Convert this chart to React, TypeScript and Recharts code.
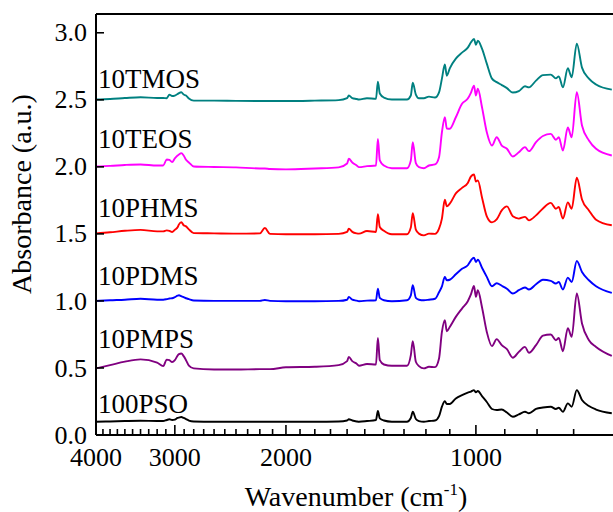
import React from 'react'
import { LineChart, Line, XAxis, YAxis, ReferenceLine, ReferenceDot } from 'recharts'

const FONT = "'Liberation Serif', 'Times New Roman', serif"

// wavenumber grid (cm-1), descending
const wavenumbers = [
  4000, 3800, 3600, 3400, 3200, 3130, 3090, 3060, 3030, 3000, 2970, 2955, 2930, 2905, 2880, 2850, 2800,
  2600, 2400, 2200, 2160, 2120, 2000, 1800, 1650, 1600, 1590, 1570, 1545, 1532,
  1488, 1440, 1430, 1420, 1399, 1359, 1286, 1268, 1259, 1245,
  1231, 1209, 1187, 1161, 1144, 1132, 1120, 1112, 1100, 1076,
  1052, 1030, 1018, 1007, 1000, 993, 978, 961, 943, 927,
  910, 893, 874, 855, 836, 824, 803, 783, 761, 747,
  739, 728, 715, 705, 692, 679, 662, 645, 609,
]

const tmos = [
  2.502, 2.506, 2.513, 2.519, 2.513, 2.513, 2.512, 2.539, 2.528, 2.532, 2.543, 2.55, 2.556, 2.539, 2.532, 2.51, 2.494,
  2.494, 2.492, 2.491, 2.491, 2.491, 2.491, 2.494, 2.498, 2.513, 2.532, 2.513, 2.506, 2.502,
  2.512, 2.507, 2.636, 2.547, 2.517, 2.502, 2.502, 2.532, 2.628, 2.539,
  2.512, 2.512, 2.524, 2.517, 2.556, 2.658, 2.763, 2.68, 2.735, 2.807,
  2.852, 2.889, 2.929, 2.954, 2.911, 2.941, 2.882, 2.77, 2.658, 2.632,
  2.61, 2.587, 2.554, 2.565, 2.601, 2.593, 2.643, 2.684, 2.688, 2.66,
  2.675, 2.593, 2.735, 2.668, 2.919, 2.74, 2.658, 2.614, 2.576,
]

const teos = [
  2.003, 2.007, 2.014, 2.018, 2.01, 2.01, 2.055, 2.052, 2.035, 2.063, 2.085, 2.092, 2.102, 2.085, 2.053, 2.033, 2.003,
  1.999, 1.996, 1.988, 1.988, 1.984, 1.981, 1.988, 1.996, 2.025, 2.06, 2.033, 2.01, 1.998,
  2.005, 2.01, 2.209, 2.048, 2.01, 1.99, 1.99, 2.048, 2.184, 2.028,
  1.998, 1.99, 2.01, 2.018, 2.072, 2.258, 2.37, 2.286, 2.284, 2.37,
  2.47, 2.509, 2.554, 2.606, 2.532, 2.582, 2.445, 2.258, 2.159, 2.221,
  2.159, 2.135, 2.077, 2.109, 2.147, 2.117, 2.184, 2.23, 2.246, 2.202,
  2.221, 2.122, 2.293, 2.221, 2.556, 2.308, 2.197, 2.135, 2.085,
]

const phms = [
  1.504, 1.512, 1.523, 1.53, 1.519, 1.519, 1.526, 1.523, 1.514, 1.53, 1.549, 1.571, 1.588, 1.564, 1.556, 1.534, 1.506,
  1.504, 1.502, 1.504, 1.544, 1.5, 1.497, 1.497, 1.5, 1.515, 1.538, 1.515, 1.504, 1.502,
  1.521, 1.514, 1.646, 1.551, 1.523, 1.497, 1.497, 1.547, 1.655, 1.532,
  1.502, 1.489, 1.502, 1.5, 1.539, 1.614, 1.755, 1.705, 1.725, 1.802,
  1.843, 1.88, 1.929, 1.943, 1.891, 1.899, 1.772, 1.631, 1.586, 1.608,
  1.675, 1.705, 1.631, 1.614, 1.627, 1.601, 1.638, 1.69, 1.731, 1.688,
  1.7, 1.614, 1.735, 1.688, 1.919, 1.757, 1.675, 1.606, 1.564,
]

const pdms = [
  1.0, 1.005, 1.009, 1.016, 1.009, 1.009, 1.013, 1.018, 1.02, 1.028, 1.039, 1.042, 1.035, 1.028, 1.02, 1.013, 1.003,
  1.0, 1.0, 1.0, 1.007, 1.0, 0.998, 0.998, 1.0, 1.009, 1.03, 1.009, 1.002, 0.998,
  1.002, 1.005, 1.092, 1.022, 1.005, 0.998, 1.005, 1.042, 1.117, 1.022,
  1.009, 1.005, 1.009, 1.016, 1.065, 1.109, 1.179, 1.154, 1.158, 1.199,
  1.24, 1.266, 1.303, 1.323, 1.29, 1.308, 1.247, 1.179, 1.109, 1.132,
  1.113, 1.091, 1.055, 1.08, 1.1, 1.085, 1.124, 1.158, 1.15, 1.13,
  1.141, 1.085, 1.174, 1.141, 1.298, 1.216, 1.154, 1.109, 1.06,
]

const pmps = [
  0.497, 0.521, 0.547, 0.564, 0.54, 0.514, 0.562, 0.558, 0.544, 0.558, 0.592, 0.603, 0.608, 0.588, 0.558, 0.517, 0.497,
  0.489, 0.488, 0.491, 0.491, 0.491, 0.505, 0.509, 0.521, 0.551, 0.583, 0.551, 0.532, 0.517,
  0.529, 0.526, 0.724, 0.558, 0.526, 0.516, 0.516, 0.596, 0.7, 0.546,
  0.514, 0.497, 0.509, 0.506, 0.571, 0.769, 0.856, 0.774, 0.806, 0.881,
  0.943, 0.998, 1.05, 1.112, 1.03, 1.08, 0.953, 0.769, 0.663, 0.715,
  0.67, 0.64, 0.576, 0.62, 0.657, 0.613, 0.67, 0.741, 0.75, 0.707,
  0.724, 0.625, 0.797, 0.732, 1.055, 0.832, 0.707, 0.657, 0.59,
]

const pso = [
  0.099, 0.101, 0.104, 0.106, 0.104, 0.104, 0.112, 0.117, 0.112, 0.115, 0.127, 0.13, 0.134, 0.127, 0.119, 0.108, 0.101,
  0.099, 0.099, 0.099, 0.099, 0.099, 0.099, 0.099, 0.101, 0.108, 0.117, 0.108, 0.101, 0.099,
  0.104, 0.112, 0.179, 0.124, 0.108, 0.099, 0.099, 0.127, 0.173, 0.119,
  0.104, 0.099, 0.104, 0.108, 0.141, 0.211, 0.253, 0.231, 0.231, 0.273,
  0.298, 0.316, 0.324, 0.335, 0.318, 0.328, 0.29, 0.246, 0.194, 0.186,
  0.19, 0.168, 0.136, 0.154, 0.173, 0.162, 0.194, 0.205, 0.211, 0.194,
  0.203, 0.173, 0.236, 0.211, 0.335, 0.261, 0.216, 0.19, 0.162,
]

const seriesNames = ['10TMOS', '10TEOS', '10PHMS', '10PDMS', '10PMPS', '100PSO']
const seriesColors = ['#008080', '#FF00FF', '#FF0000', '#0000FF', '#800080', '#000000']
const seriesValues = [tmos, teos, phms, pdms, pmps, pso]
// absorbance level where each name label sits
const labelLevels = [2.586, 2.139, 1.624, 1.118, 0.648, 0.164]

const majorTicks = [4000, 3000, 2000, 1000]
const minorTicks = Array.from({ length: 37 }, (_, i) => 4000 - i * 100)
const yTicks = [0, 0.5, 1.0, 1.5, 2.0, 2.5, 3.0]

const data = wavenumbers.map((wn, i) => {
  const row: Record<string, number> = { wn }
  seriesNames.forEach((name, s) => {
    row[name] = seriesValues[s][i]
  })
  return row
})

const XTick = (props: any) => {
  const { x, y, payload } = props
  const major = majorTicks.includes(payload.value)
  return (
    <g>
      <line x1={x} x2={x} y1={y} y2={y - (major ? 10 : 6)} stroke="#000" strokeWidth={1.6} />
      {major && (
        <text x={x} y={y + 31} textAnchor="middle" fontSize={26} fontFamily={FONT} fill="#000">
          {payload.value}
        </text>
      )}
    </g>
  )
}

const YTick = (props: any) => {
  const { x, y, payload } = props
  return (
    <g>
      <line x1={x} x2={x + 8} y1={y} y2={y} stroke="#000" strokeWidth={1.6} />
      <text x={x - 9} y={y} dy="0.33em" textAnchor="end" fontSize={26} fontFamily={FONT} fill="#000">
        {Number(payload.value).toFixed(1)}
      </text>
    </g>
  )
}

const nameLabel = (text: string) => (props: any) => {
  const { viewBox } = props
  return (
    <text x={viewBox.x + 2} y={viewBox.y} fontSize={27} fontFamily={FONT} fill="#000">
      {text}
    </text>
  )
}

export default function App() {
  return (
    <div
      style={{
        position: 'absolute',
        left: 0,
        top: 0,
        width: 613,
        height: 512,
        overflow: 'hidden',
        background: '#fff',
      }}
    >
      <LineChart width={740} height={512} data={data} margin={{ top: 14, right: 13, bottom: 0, left: 0 }}>
        <XAxis
          dataKey="wn"
          type="number"
          scale="log"
          domain={[400, 4000]}
          reversed
          allowDataOverflow
          ticks={minorTicks}
          interval={0}
          tick={<XTick />}
          tickLine={false}
          tickSize={0}
          tickMargin={0}
          height={77}
          axisLine={{ stroke: '#000', strokeWidth: 2 }}
        />
        <YAxis
          type="number"
          domain={[0, 3.14]}
          ticks={yTicks}
          interval={0}
          width={96}
          tick={<YTick />}
          tickLine={false}
          tickSize={0}
          tickMargin={0}
          allowDataOverflow
          axisLine={{ stroke: '#000', strokeWidth: 2 }}
        />
        <ReferenceLine y={3.14} stroke="#000" strokeWidth={2} />
        {seriesNames.map((name, s) => (
          <Line
            key={name}
            type="monotoneX"
            dataKey={name}
            stroke={seriesColors[s]}
            strokeWidth={1.9}
            dot={false}
            isAnimationActive={false}
          />
        ))}
        {seriesNames.map((name, s) => (
          <ReferenceDot
            key={'lbl-' + name}
            x={4000}
            y={labelLevels[s]}
            r={0}
            fill="none"
            stroke="none"
            label={nameLabel(name)}
          />
        ))}
      </LineChart>
      <svg width={613} height={512} style={{ position: 'absolute', left: 0, top: 0, pointerEvents: 'none' }}>
        <text
          x={31}
          y={194}
          transform="rotate(-90, 31, 194)"
          textAnchor="middle"
          fontSize={28}
          fontFamily={FONT}
          fill="#000"
        >
          Absorbance (a.u.)
        </text>
        <text x={356} y={506} textAnchor="middle" fontSize={28} fontFamily={FONT} fill="#000">
          Wavenumber (cm
          <tspan dy={-11} fontSize={17}>-1</tspan>
          <tspan dy={11}>)</tspan>
        </text>
      </svg>
    </div>
  )
}
